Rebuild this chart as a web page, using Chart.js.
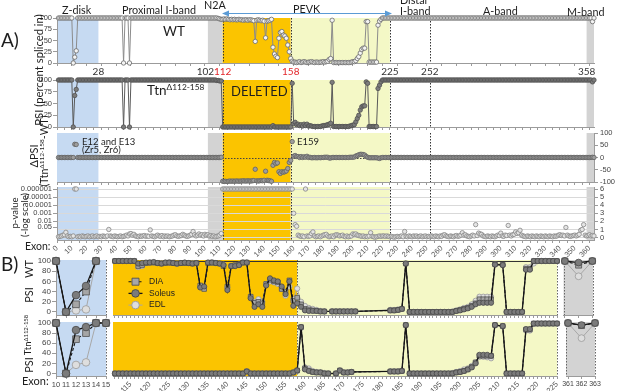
<!DOCTYPE html>
<html>
<head>
<meta charset="utf-8">
<title>Titin exon PSI</title>
<script src="https://cdn.jsdelivr.net/npm/chart.js@4.4.1/dist/chart.umd.min.js"></script>
<style>
  html, body { margin: 0; padding: 0; background: #fff; }
  #page { position: relative; width: 617px; height: 391px; overflow: hidden; font-family: Lato, "Liberation Sans", sans-serif; color: #1e1e1e; }
  #charts { position: absolute; left: 0; top: 0; z-index: 1; }
  #charts canvas { position: absolute; left: 0; top: 0; }
  .t { position: absolute; white-space: nowrap; line-height: 1; z-index: 2; }
  .r { transform: translate(-50%, -50%) rotate(-90deg); }
  sup { font-size: 0.62em; line-height: 0; vertical-align: 0.6em; }
</style>
</head>
<body>
<div id="page">
  <div id="charts"></div>

  <div class="t" style="left:1px;top:30px;font-size:19px">A)</div>
  <div class="t" style="left:1px;top:254px;font-size:19px">B)</div>

  <div class="t" style="left:62px;top:5px;font-size:10.8px">Z-disk</div>
  <div class="t" style="left:122px;top:5px;font-size:10.8px">Proximal I-band</div>
  <div class="t" style="left:204px;top:0px;font-size:10.8px">N2A</div>
  <div class="t" style="left:293px;top:3.5px;font-size:10.8px">PEVK</div>
  <div class="t" style="left:400px;top:-5.5px;font-size:10.8px">Distal</div>
  <div class="t" style="left:400px;top:5.5px;font-size:10.8px">I-band</div>
  <div class="t" style="left:483px;top:5.5px;font-size:10.8px">A-band</div>
  <div class="t" style="left:567px;top:7px;font-size:10.8px">M-band</div>
  <svg class="t" style="left:0;top:0" width="617" height="30">
    <line x1="228" y1="13.5" x2="386" y2="13.5" stroke="#5b9bd5" stroke-width="1.2"/>
    <polygon points="222,13.5 229,10.5 229,16.5" fill="#5b9bd5"/>
    <polygon points="392,13.5 385,10.5 385,16.5" fill="#5b9bd5"/>
  </svg>

  <div class="t" style="left:163px;top:25px;font-size:13.5px">WT</div>
  <div class="t" style="left:147px;top:84px;font-size:13.5px">Ttn<sup>Δ112-158</sup></div>
  <div class="t" style="left:231px;top:85px;font-size:13px">DELETED</div>
  <div class="t" style="left:82px;top:136.5px;font-size:9.5px">E12 and E13</div>
  <div class="t" style="left:82px;top:145px;font-size:9.5px">(Zr5, Zr6)</div>
  <div class="t" style="left:297px;top:136.5px;font-size:9.5px">E159</div>
  <div class="t" style="left:25px;top:241px;font-size:10.5px">Exon:</div>
  <div class="t" style="left:22px;top:374.5px;font-size:11px">Exon:</div>

  <div class="t r" style="left:38.5px;top:70px;font-size:11.3px">PSI (percent spliced in)</div>
  <div class="t r" style="left:32.5px;top:156px;font-size:11px">ΔPSI</div>
  <div class="t r" style="left:43.5px;top:151px;font-size:10.5px">(Ttn<sup>Δ112-158</sup>-WT)</div>
  <div class="t r" style="left:15px;top:213px;font-size:9.5px">p-value</div>
  <div class="t r" style="left:24.5px;top:215px;font-size:9.5px">(-log scale)</div>

  <div class="t r" style="left:27.5px;top:269px;font-size:11px">WT</div>
  <div class="t r" style="left:28px;top:295px;font-size:11px">PSI</div>
  <div class="t r" style="left:27.5px;top:335px;font-size:9.5px">Ttn<sup>Δ112-158</sup></div>
  <div class="t r" style="left:28px;top:364.5px;font-size:11px">PSI</div>
</div>

<script>
// ---------------- Panel A data: one value per exon, exons 1..363 ----------------
const wtA = [
  100,100,100,100,100,100,100,100,100,100, 0,13,27,100,100,100,100,100,100,100,
  100,100,100,100,100,100,100,100,100,100, 100,100,100,100,100,100,100,100,100,100,
  100,100,100,100,0,100,100,100,0,100, 100,100,100,100,100,100,100,100,100,100,
  100,100,100,100,100,100,100,100,100,100, 100,100,100,100,100,100,100,100,100,100,
  100,100,100,100,100,100,100,100,100,100, 100,100,100,100,100,100,100,100,100,100,
  100,100,100,100,100,100,100,100,99,98, 97,97,98,97,98,97,96,97,96,97,
  96,96,97,96,96,95,96,96,95,96, 96,95,94,48,95,96,95,94,95,93,
  56,93,94,95,97,35,20,15,12,55, 68,70,62,60,55,40,25,10,4,2,
  2,1,2,3,1,2,3,2,1,2, 2,3,2,1,2,2,1,2,2,3,
  2,3,4,8,10,95,1,1,1,1, 1,1,1,1,1,1,1,1,2,3,
  3,5,10,14,22,30,33,33,92,92, 2,2,2,2,2,2,84,93,97,100,
  100,100,100,100,100,100,100,100,100,100, 100,100,100,100,100,100,100,100,100,100,
  100,100,100,100,100,100,100,100,100,100, 100,100,100,100,100,100,100,100,100,100,
  100,100,100,100,100,100,100,100,100,100, 100,100,100,100,100,100,100,100,100,100,
  100,100,100,100,100,100,100,100,100,100, 100,100,100,100,100,100,100,100,100,100,
  100,100,100,100,100,100,100,100,100,100, 100,100,100,100,100,100,100,100,100,100,
  100,100,100,100,100,100,100,100,100,100, 100,100,100,100,100,100,100,100,100,100,
  100,100,100,100,100,100,100,100,100,100, 100,100,100,100,100,100,100,100,100,100,
  100,92,100
];

const ttnA = [
  100,100,100,100,100,100,100,100,100,100, 0,67,80,100,100,100,100,100,100,100,
  100,100,100,100,100,100,100,100,100,100, 100,100,100,100,100,100,100,100,100,100,
  100,100,100,100,0,100,100,100,0,100, 100,100,100,100,100,100,100,100,100,100,
  100,100,100,100,100,100,100,100,100,100, 100,100,100,100,100,100,100,100,100,100,
  100,100,100,100,100,100,100,100,100,100, 100,100,100,100,100,100,100,100,100,100,
  100,100,100,100,100,100,100,99,99,98, 98,0,0,0,0,0,0,0,0,0,
  0,0,0,0,0,0,0,0,0,0, 0,0,0,0,0,0,0,0,0,0,
  0,0,0,0,0,3,0,0,0,0, 0,0,0,0,0,0,0,0,93,7,
  10,5,6,3,5,2,6,3,6,2, 3,2,1,1,1,1,1,1,2,3,
  3,4,5,6,8,95,1,1,1,1, 1,1,1,1,1,1,1,2,3,4,
  5,11,18,25,36,43,45,45,96,93, 1,1,1,1,1,1,82,89,96,100,
  100,100,100,100,100,100,100,100,100,100, 100,100,100,100,100,100,100,100,100,100,
  100,100,100,100,100,100,100,100,100,100, 100,100,100,100,100,100,100,100,100,100,
  100,100,100,100,100,100,100,100,100,100, 100,100,100,100,100,100,100,100,100,100,
  100,100,100,100,100,100,100,100,100,100, 100,100,100,100,100,100,100,100,100,100,
  100,100,100,100,100,100,100,100,100,100, 100,100,100,100,100,100,100,100,100,100,
  100,100,100,100,100,100,100,100,100,100, 100,100,100,100,100,100,100,100,100,100,
  100,100,100,100,100,100,100,100,100,100, 100,100,100,100,100,100,100,100,100,100,
  100,96,100
];

const dpsiA = [
  0,0,0,0,0,0,0,0,0,0, 0,54,53,0,0,0,0,0,0,0,
  0,0,0,0,0,0,0,0,0,0, 0,0,0,0,0,0,0,0,0,0,
  0,0,0,0,0,0,0,0,0,0, 0,0,0,0,0,0,0,0,0,0,
  0,0,0,0,0,0,0,0,0,0, 0,0,0,0,0,0,0,0,0,0,
  0,0,0,0,0,0,0,0,0,0, 0,0,0,0,0,0,0,0,0,0,
  0,0,0,0,0,0,0,0,0,0, 1,-97,-98,-97,-98,-97,-96,-97,-96,-97,
  -96,-96,-97,-96,-96,-95,-96,-96,-95,-96, -96,-95,-94,-48,-95,-96,-95,-94,-95,-93,
  -56,-93,-94,-95,-97,-32,-20,-25,-22,-58, -65,-58,-60,-58,-55,-45,-20,-12,65,5,
  8,4,4,0,4,0,3,1,5,0, 1,-1,-1,0,-1,-1,0,-1,0,0,
  1,1,1,-2,-2,0,0,0,0,0, 0,0,0,0,0,0,0,1,1,1,
  2,6,8,11,13,13,12,10,4,1, -1,-1,-1,-1,-1,-1,-2,-4,-1,0,
  0,0,0,0,0,0,0,0,0,0, 0,0,0,0,0,0,0,0,0,0,
  0,0,0,0,0,0,0,0,0,0, 0,0,0,0,0,0,0,0,0,0,
  0,0,0,0,0,0,0,0,0,0, 0,0,0,0,0,0,0,0,0,0,
  0,0,0,0,0,0,0,0,0,0, 0,0,0,0,0,0,0,0,0,0,
  0,0,0,0,0,0,0,0,0,0, 0,0,0,0,0,0,0,0,0,0,
  0,0,0,0,0,0,0,0,0,0, 0,0,0,0,0,0,0,0,0,0,
  0,0,0,0,0,0,0,0,0,0, 0,0,0,0,0,0,0,0,0,0,
  0,1,0
];

// -log10(p) per exon
const pA = [
  0.1,0.15,0.2,0.3,0.35,0.65,0.2,0.1,0.15,0.1, 0.2,6,6,0.1,0.15,0.1,0.2,0.15,0.1,0.15,
  0.2,0.1,0.15,0.2,0.1,0.15,0.2,0.1,0.15,0.1, 0.2,0.15,0.1,0.2,1.0,0.2,0.15,0.1,0.2,0.15,
  0.1,0.15,0.2,0.1,0.15,0.2,0.3,0.2,0.45,0.5, 0.3,0.4,0.2,0.15,0.1,0.2,0.15,0.2,0.25,0.15,
  0.2,0.15,0.95,0.2,0.15,0.1,0.2,0.3,0.2,0.15, 0.25,0.1,0.2,0.15,0.2,0.1,0.15,0.2,0.3,0.35,
  0.2,0.15,0.2,0.25,0.4,0.3,0.2,0.15,0.2,0.3, 0.4,0.75,0.35,0.2,0.3,0.45,0.3,0.35,0.2,0.4,
  0.3,0.35,0.2,0.25,0.15,0.2,0.1,0.15,0.2,0.3, 0.5,6,6,6,6,6,6,6,6,6,
  6,6,6,6,6,6,6,6,6,6, 6,6,6,6,6,6,6,6,6,6,
  6,6,6,6,6,6,6,6,6,6, 6,6,6,6,6,6,6,6,6,3.0,
  1.6,1.4,0.3,0.2,0.15,0.2,0.1,6,0.2,0.15, 0.2,0.5,0.7,0.2,0.1,0.15,0.2,0.1,0.2,0.3,
  0.35,0.4,0.2,0.1,0.15,0.2,0.1,0.3,0.35,0.3, 0.2,0.25,0.3,0.15,0.1,0.2,0.1,0.15,0.2,0.45,
  0.4,0.45,0.3,0.25,0.2,0.15,0.2,0.1,0.15,0.1, 0.2,0.6,0.15,0.1,0.05,0.1,0.15,0.2,0.15,0.2,
  0.2,0.15,0.2,0.15,0.1,0.15,0.1,0.05,0.1,0.15, 0.1,0.15,0.2,0.1,0.75,0.15,0.1,0.2,0.15,0.1,
  0.2,0.15,0.2,0.1,0.15,0.2,0.1,0.15,0.2,0.1, 0.15,0.1,0.2,0.15,0.1,0.2,0.15,0.1,0.2,0.15,
  0.3,0.35,0.2,0.15,0.1,0.2,0.15,0.1,0.2,0.25, 0.15,0.2,0.3,0.6,0.3,0.35,0.2,0.15,0.1,0.2,
  0.3,0.2,1.6,0.25,0.55,0.45,0.4,0.2,0.15,0.1, 0.2,0.15,0.1,0.2,0.15,0.1,0.2,0.3,0.25,0.55,
  0.2,0.15,0.3,0.25,1.5,0.3,0.2,0.35,0.4,0.7, 0.5,0.6,0.9,0.3,0.2,0.15,0.1,0.2,0.15,0.1,
  0.2,0.15,0.1,0.2,0.15,0.1,0.2,0.15,0.1,0.2, 0.15,0.1,0.2,0.15,0.1,0.2,0.15,0.2,0.3,0.35,
  0.25,0.3,0.2,1.25,0.3,0.2,0.15,0.2,0.25,0.3, 0.2,0.3,0.4,0.9,1.0,1.6,0.3,0.2,0.25,0.35,
  0.2,0.25,0.2
];

// ---------------- Panel B data ----------------
const exonsBL = [10, 11, 12, 13, 14, 15];
const wtSolBL = [100, 0, 33, 51, 100, null];
const wtDiaBL = [100, 0, 15, 40, 100, null];
const wtEdlBL = [100, 0, 3, 5, 100, null];
const ttnSolBL = [100, 0, 86, 92, 100, 100];
const ttnDiaBL = [100, 0, 68, 80, 100, 100];
const ttnEdlBL = [100, 0, 17, 22, 100, 100];

// exons 111..225
const wtSolBM = [
  100,100,100,100,100,100,95,96,97,97,
  98,96,95,97,97,96,95,96,97,96,
  95,96,48,50,97,97,96,95,92,43,
  90,90,92,97,97,27,10,15,10,52,
  66,62,60,50,35,60,12,17,10,3,
  2,2,2,1,1,null,1,1,1,1,
  1,1,1,null,null,null,null,null,null,null,
  null,3,3,4,6,95,0,0,0,0,
  0,0,0,0,0,0,0,0,2,3,
  5,7,10,15,18,18,18,18,93,null,
  92,0,0,0,0,0,83,83,100,100,
  100,100,100,100,100
];
const wtDiaBM = [
  100,100,100,100,100,100,90,92,96,97,
  97,96,95,96,97,96,95,96,96,96,
  95,96,52,45,96,97,96,95,90,50,
  90,92,93,97,97,30,18,20,17,55,
  63,60,58,45,40,62,22,28,15,6,
  5,3,2,1,1,null,1,1,1,1,
  1,1,1,null,null,null,null,null,null,null,
  null,3,3,4,6,95,0,0,0,0,
  0,0,0,0,0,0,0,0,2,4,
  6,8,12,17,25,25,25,25,94,null,
  93,0,0,0,0,0,85,85,100,100,
  100,100,100,100,100
];
const wtEdlBM = [
  100,100,100,100,100,100,88,90,96,97,
  97,96,96,97,97,96,95,96,97,96,
  96,96,50,48,97,97,96,95,93,48,
  91,91,93,97,97,30,20,25,20,55,
  60,58,55,45,32,50,25,46,20,12,
  8,6,4,2,1,null,1,1,1,1,
  1,1,1,null,null,null,null,null,null,null,
  null,4,4,5,6,95,0,0,0,0,
  0,0,0,0,0,0,0,1,3,5,
  8,10,15,22,30,30,30,30,93,null,
  92,0,0,0,0,0,88,88,95,100,
  100,100,100,100,100
];
const ttnSolBM = [
  0,0,0,0,0,0,0,0,0,0,
  0,0,0,0,0,0,0,0,0,0,
  0,0,0,0,0,0,0,0,0,0,
  0,0,0,0,4,0,0,0,0,0,
  0,0,0,0,0,0,2,6,92,8,
  5,3,2,2,0,0,null,0,6,2,
  2,3,null,null,null,null,null,null,null,null,
  null,4,4,4,5,96,0,0,0,0,
  0,0,0,0,0,0,0,0,2,3,
  5,8,12,20,37,37,37,35,96,null,
  94,0,0,0,0,0,88,88,99,99,
  99,99,99,99,99
];
const ttnDiaBM = [
  0,0,0,0,0,0,0,0,0,0,
  0,0,0,0,0,0,0,0,0,0,
  0,0,0,0,0,0,0,0,0,0,
  0,0,0,0,4,0,0,0,0,0,
  0,0,0,0,0,0,2,6,92,10,
  6,3,2,2,0,0,null,0,6,2,
  2,3,null,null,null,null,null,null,null,null,
  null,4,4,4,5,96,0,0,0,0,
  0,0,0,0,0,0,0,0,2,3,
  5,8,13,22,35,35,35,35,96,null,
  94,0,0,0,0,0,87,87,99,99,
  99,99,99,99,99
];
const ttnEdlBM = [
  0,0,0,0,0,0,0,0,0,0,
  0,0,0,0,0,0,0,0,0,0,
  0,0,0,0,0,0,0,0,0,0,
  0,0,0,0,4,0,0,0,0,0,
  0,0,0,0,0,0,2,5,90,12,
  10,5,3,2,1,0,null,0,5,2,
  2,3,null,null,null,null,null,null,null,null,
  null,4,4,4,5,96,0,0,0,0,
  0,0,0,0,0,0,0,1,3,5,
  8,10,15,22,33,33,32,30,95,null,
  93,0,0,0,0,0,85,85,98,99,
  99,99,99,99,99
];

const exonsBR = [361, 362, 363];
const wtSolBR = [100, 97, 100];
const wtDiaBR = [100, 92, 100];
const wtEdlBR = [100, 70, 100];
const ttnSolBR = [100, 96, 100];
const ttnDiaBR = [100, 95, 100];
const ttnEdlBR = [100, 70, 100];

// ---------------- Tick labels ----------------
const bandTicks = [28, 102, 112, 158, 225, 252, 358];
const redTicks = [112, 158];
const psiTicksA = [0, 25, 50, 75, 100];
const psiTicksB = [0, 20, 40, 60, 80, 100];
const dpsiTicks = [-100, -50, 0, 50, 100];
const logTicks = [0, 1, 2, 3, 4, 5, 6];
const pTickVals = [6, 5, 4, 3, 2, 1.3];
const pTickLabels = ['0.000001', '0.00001', '0.0001', '0.001', '0.01', '0.05'];

// ---------------- Helpers ----------------
const W = 617, H = 391;
const BLUE = '#c6daf2', GRAY = '#d3d3d3', ORANGE = '#fbc400', YELLOW = '#f4f8c6';
const TICK = '#444', AXIS = '#9b9b9b';
const tickFont = (size, family) => ({ family: family || '"Liberation Sans", Arial, sans-serif', size });

const exonsA = wtA.map((_, i) => i + 1);
const exonsBM = wtSolBM.map((_, i) => 111 + i);
const toPts = (xs, ys) => ys.map((y, i) => ({ x: xs[i], y }));

const every = (from, to, step) => { const t = []; for (let v = from; v <= to; v += step) t.push(v); return t; };
const fivesA = every(0, 360, 5);
const row1Ticks = [...new Set([...every(0, 360, 10), ...bandTicks])].sort((a, b) => a - b);

// background zones
const bandsPlugin = {
  id: 'bands',
  beforeDraw(chart, args, opts) {
    const { ctx, chartArea: a, scales: { x } } = chart;
    ctx.save();
    (opts.list || []).forEach(([from, to, color]) => {
      const x0 = Math.max(a.left, x.getPixelForValue(from));
      const x1 = Math.min(a.right, x.getPixelForValue(to));
      ctx.fillStyle = color;
      ctx.fillRect(x0, a.top, x1 - x0, a.bottom - a.top);
    });
    ctx.restore();
  }
};

// dotted boundaries / reference lines
const guidesPlugin = {
  id: 'guides',
  beforeDatasetsDraw(chart, args, opts) {
    const { ctx, chartArea: a, scales } = chart;
    ctx.save();
    ctx.lineWidth = 1;
    (opts.v || []).forEach(([val, color, dash]) => {
      let px = val === 'L' ? a.left : val === 'R' ? a.right : scales.x.getPixelForValue(val);
      px = Math.round(px) + 0.5;
      ctx.strokeStyle = color; ctx.setLineDash(dash);
      ctx.beginPath(); ctx.moveTo(px, a.top); ctx.lineTo(px, a.bottom); ctx.stroke();
    });
    (opts.h || []).forEach(([val, color, dash]) => {
      const py = Math.round(scales.y.getPixelForValue(val)) + 0.5;
      ctx.strokeStyle = color; ctx.setLineDash(dash);
      ctx.beginPath(); ctx.moveTo(a.left, py); ctx.lineTo(a.right, py); ctx.stroke();
    });
    ctx.restore();
  }
};

// small legend inside panel B
const legendPlugin = {
  id: 'miniLegend',
  afterDatasetsDraw(chart, args, opts) {
    if (!opts.items) return;
    const { ctx, chartArea: a } = chart;
    opts.items.forEach((idx, i) => {
      const ds = chart.data.datasets[idx];
      const cx = a.left + opts.dx, cy = a.top + opts.dy + i * opts.step;
      ctx.save();
      ctx.strokeStyle = ds.borderColor; ctx.lineWidth = ds.borderWidth;
      ctx.setLineDash(ds.borderDash || []);
      ctx.beginPath(); ctx.moveTo(cx - 7, cy); ctx.lineTo(cx + 7, cy); ctx.stroke();
      ctx.setLineDash([]);
      ctx.fillStyle = ds.pointBackgroundColor; ctx.strokeStyle = ds.pointBorderColor; ctx.lineWidth = 0.9;
      ctx.beginPath();
      if (ds.pointStyle === 'rect') ctx.rect(cx - 3.5, cy - 3.5, 7, 7);
      else ctx.arc(cx, cy, 3.8, 0, Math.PI * 2);
      ctx.fill(); ctx.stroke();
      ctx.fillStyle = '#222'; ctx.font = '8.5px "Liberation Sans", Arial, sans-serif';
      ctx.textBaseline = 'middle';
      ctx.fillText(ds.label, cx + 13.5, cy);
      ctx.restore();
    });
  }
};

function xScale(min, max, tickVals, opt = {}) {
  return {
    type: 'linear', min, max,
    afterBuildTicks: s => { s.ticks = tickVals.map(v => ({ value: v })); },
    grid: { drawOnChartArea: false, tickLength: opt.tickLength || 3, color: AXIS, tickColor: opt.tickColor || AXIS },
    border: { color: AXIS },
    ticks: {
      display: !!opt.label, autoSkip: false, padding: opt.padding ?? 1,
      minRotation: opt.rot || 0, maxRotation: opt.rot || 0,
      font: opt.font || tickFont(8), color: opt.color || TICK,
      callback: opt.label || (() => '')
    }
  };
}

function yScale(min, max, tickVals, opt = {}) {
  return {
    type: 'linear', min, max, position: opt.position || 'left', display: opt.display !== false,
    afterBuildTicks: s => { s.ticks = tickVals.map(v => ({ value: v })); },
    grid: { drawOnChartArea: !!opt.gridColor, color: opt.gridColor || AXIS, tickColor: AXIS, tickLength: 4 },
    border: { color: AXIS },
    ticks: { autoSkip: false, font: tickFont(opt.size || 8), color: TICK, padding: opt.padding ?? 1, callback: opt.label || (v => v) }
  };
}

function makeChart(area, cfg) {
  const cv = document.createElement('canvas');
  cv.width = W; cv.height = H;
  document.getElementById('charts').appendChild(cv);
  const yW = cfg.yW || 0, yRW = cfg.yRW || 0, xH = cfg.xH || 4;
  const scales = cfg.scales;
  scales.x.afterFit = s => { s.height = xH; };
  if (scales.y.display !== false) scales.y.afterFit = s => { s.width = yW; };
  if (scales.y2) scales.y2.afterFit = s => { s.width = yRW; };
  return new Chart(cv, {
    type: 'line',
    data: { datasets: cfg.datasets },
    options: {
      responsive: false, animation: false, events: [],
      layout: {
        autoPadding: false,
        padding: { left: area.l - yW, right: W - area.r - yRW, top: area.t, bottom: H - area.b - xH }
      },
      plugins: {
        legend: { display: false }, tooltip: { enabled: false },
        bands: { list: cfg.bands || [] },
        guides: cfg.guides || {},
        miniLegend: cfg.miniLegend || {}
      },
      scales
    },
    plugins: [bandsPlugin, guidesPlugin, legendPlugin]
  });
}

// ---------------- Panel A ----------------
const zonesA = [[0, 28, BLUE], [102, 112, GRAY], [112, 158, ORANGE], [158, 225, YELLOW], [358, 363, GRAY]];
const dotsA = [112, 158, 225, 252].map(v => [v, '#333', [1.5, 1.5]]);
const dsA = (data, style) => Object.assign({
  data: toPts(exonsA, data), clip: false, pointRadius: 2.2, pointBorderWidth: 0.8, borderWidth: 1
}, style);

makeChart({ l: 57, r: 594, t: 18, b: 63 }, {
  yW: 23, xH: 15, bands: zonesA, guides: { v: dotsA },
  datasets: [dsA(wtA, { pointBackgroundColor: '#f4f4f4', pointBorderColor: '#6a6a6a', borderColor: '#8c8c8c' })],
  scales: {
    x: xScale(0, 363, row1Ticks, {
      tickColor: c => (c.tick && c.tick.value % 10 === 0) ? AXIS : 'rgba(0,0,0,0)',
      padding: 0, font: tickFont(10, 'Lato, sans-serif'),
      color: c => redTicks.includes(c.tick.value) ? '#e3262b' : '#333',
      label: v => !bandTicks.includes(v) ? '' : v === 102 ? '102\u2002' : String(v)
    }),
    y: yScale(0, 100, psiTicksA, { size: 7.5 })
  }
});

makeChart({ l: 57, r: 594, t: 80, b: 127 }, {
  yW: 23, xH: 4, bands: zonesA, guides: { v: dotsA },
  datasets: [dsA(ttnA, { pointBackgroundColor: '#7c7c7c', pointBorderColor: '#505050', borderColor: '#5a5a5a' })],
  scales: { x: xScale(0, 363, fivesA), y: yScale(0, 100, psiTicksA, { size: 7.5 }) }
});

makeChart({ l: 57, r: 594, t: 133, b: 182 }, {
  yRW: 23, xH: 4, bands: zonesA, guides: { v: dotsA, h: [[0, '#444', [1.5, 1.5]]] },
  datasets: [dsA(dpsiA, { showLine: false, pointBackgroundColor: '#9d9d9d', pointBorderColor: '#626262' })],
  scales: {
    x: xScale(0, 363, fivesA),
    y: { type: 'linear', min: -100, max: 100, display: false },
    y2: yScale(-100, 100, dpsiTicks, { position: 'right', size: 7.5, padding: 2 })
  }
});

makeChart({ l: 57, r: 594, t: 187, b: 240 }, {
  yW: 36, yRW: 23, xH: 20, bands: zonesA, guides: { v: dotsA },
  datasets: [dsA(pA, { showLine: false, pointBackgroundColor: '#e4e4e4', pointBorderColor: '#858585' })],
  scales: {
    x: xScale(0, 363, fivesA, { rot: 45, font: tickFont(7.5), color: '#555', label: v => v % 10 === 0 ? String(v) : '' }),
    y: yScale(-0.3, 6.25, pTickVals, { size: 7.5, padding: 1, label: v => pTickLabels[pTickVals.indexOf(v)] }),
    y2: yScale(-0.3, 6.25, logTicks, { position: 'right', size: 7.5, padding: 2, gridColor: '#d9d9d9' })
  }
});

// ---------------- Panel B ----------------
function bSet(sol, dia, edl, xs, r) {
  const base = { clip: false, spanGaps: true, pointBorderWidth: 0.8 };
  return [
    Object.assign({ label: 'Soleus', data: toPts(xs, sol), pointStyle: 'circle', pointRadius: r,
      pointBackgroundColor: '#7b7b7b', pointBorderColor: '#474747', borderColor: '#161616', borderWidth: 1.3 }, base),
    Object.assign({ label: 'DIA', data: toPts(xs, dia), pointStyle: 'rect', pointRadius: r * 1.25,
      pointBackgroundColor: '#a6a6a6', pointBorderColor: '#505050', borderColor: '#161616', borderWidth: 1.1, borderDash: [3, 2] }, base),
    Object.assign({ label: 'EDL', data: toPts(xs, edl), pointStyle: 'circle', pointRadius: r,
      pointBackgroundColor: '#dedede', pointBorderColor: '#9a9a9a', borderColor: '#a8a8a8', borderWidth: 1 }, base)
  ];
}
const dotB = '#666';

// left: exons 10-15
makeChart({ l: 56, r: 106, t: 260, b: 315 }, {
  yW: 20, xH: 4, bands: [[10, 15, BLUE]], guides: { v: [['R', dotB, [1.5, 1.5]]] },
  datasets: bSet(wtSolBL, wtDiaBL, wtEdlBL, exonsBL, 3.8),
  scales: { x: xScale(10, 15, exonsBL), y: yScale(-6, 102, psiTicksB, { size: 8 }) }
});
makeChart({ l: 56, r: 106, t: 322, b: 376 }, {
  yW: 20, xH: 14, bands: [[10, 15, BLUE]], guides: { v: [['R', dotB, [1.5, 1.5]]] },
  datasets: bSet(ttnSolBL, ttnDiaBL, ttnEdlBL, exonsBL, 3.8),
  scales: {
    x: xScale(10, 15, exonsBL, { label: v => String(v), font: tickFont(7.5), padding: 1 }),
    y: yScale(-5, 102, psiTicksB, { size: 8 })
  }
});

// middle: exons 111-225
makeChart({ l: 113, r: 557, t: 260, b: 315 }, {
  xH: 4, bands: [[110.5, 158, ORANGE], [158, 225, YELLOW]],
  guides: { v: [[158, dotB, [1.5, 1.5]], ['R', dotB, [1.5, 1.5]]], h: [[100, '#333', []]] },
  miniLegend: { items: [1, 0, 2], dx: 22.5, dy: 21.7, step: 11.7 },
  datasets: bSet(wtSolBM, wtDiaBM, wtEdlBM, exonsBM, 2.6),
  scales: { x: xScale(110.5, 225, exonsBM, { tickLength: 3 }), y: { type: 'linear', min: -6, max: 102, display: false } }
});
makeChart({ l: 113, r: 557, t: 322, b: 376 }, {
  xH: 16, bands: [[110.5, 158, ORANGE], [158, 225, YELLOW]],
  guides: { v: [[158, dotB, [1.5, 1.5]], ['R', dotB, [1.5, 1.5]]] },
  datasets: bSet(ttnSolBM, ttnDiaBM, ttnEdlBM, exonsBM, 2.6),
  scales: {
    x: xScale(110.5, 225, exonsBM, { rot: 45, font: tickFont(7.5), color: '#555', label: v => v % 5 === 0 ? String(v) : '' }),
    y: { type: 'linear', min: -5, max: 102, display: false }
  }
});

// right: exons 361-363
makeChart({ l: 563.5, r: 593, t: 260, b: 315 }, {
  xH: 4, bands: [[360.8, 363.2, GRAY]], guides: { v: [['L', dotB, [1.5, 1.5]], ['R', dotB, [1.5, 1.5]]] },
  datasets: bSet(wtSolBR, wtDiaBR, wtEdlBR, exonsBR, 3.4),
  scales: { x: xScale(360.9, 363.05, exonsBR), y: { type: 'linear', min: -6, max: 102, display: false } }
});
makeChart({ l: 566, r: 595, t: 322, b: 376 }, {
  xH: 12, bands: [[360.8, 363.2, GRAY]], guides: { v: [['L', dotB, [1.5, 1.5]], ['R', dotB, [1.5, 1.5]]] },
  datasets: bSet(ttnSolBR, ttnDiaBR, ttnEdlBR, exonsBR, 3.4),
  scales: {
    x: xScale(360.85, 363.0, exonsBR, { label: v => String(v), font: tickFont(7), padding: 1 }),
    y: { type: 'linear', min: -5, max: 102, display: false }
  }
});
</script>
</body>
</html>
